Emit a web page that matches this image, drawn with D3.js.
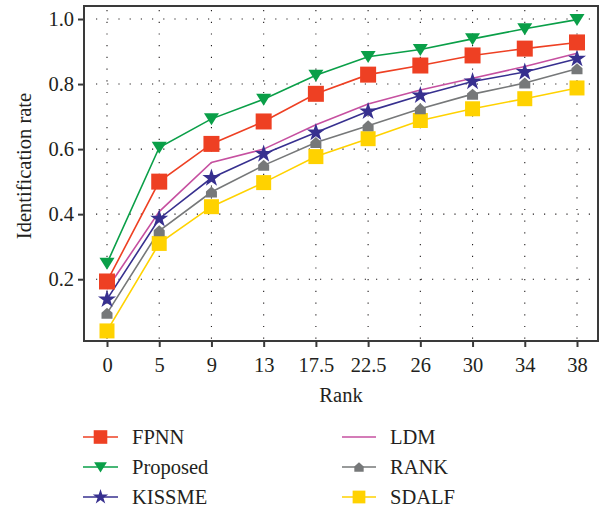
<!DOCTYPE html>
<html>
<head>
<meta charset="utf-8">
<script src="https://cdn.jsdelivr.net/npm/d3@7"></script>
<style>
html,body{margin:0;padding:0;background:#fff;}
svg{display:block;}
text{font-family:"Liberation Serif","DejaVu Serif",serif;fill:#231f20;}
</style>
</head>
<body>
<svg id="chart" width="600" height="506"></svg>
<script>
const categories = ["0","5","9","13","17.5","22.5","26","30","34","38"];
const yTicks = [0.2,0.4,0.6,0.8,1.0];
const seriesNames = ["FPNN","Proposed","KISSME","LDM","RANK","SDALF"];
const fpnn     = [0.193,0.500,0.616,0.685,0.770,0.829,0.857,0.888,0.909,0.928];
const proposed = [0.249,0.605,0.693,0.753,0.827,0.884,0.906,0.939,0.970,0.998];
const kissme   = [0.138,0.386,0.511,0.585,0.651,0.716,0.765,0.808,0.837,0.878];
const ldm      = [0.170,0.408,0.559,0.600,0.675,0.739,0.782,0.818,0.854,0.895];
const rank     = [0.095,0.349,0.468,0.550,0.620,0.672,0.724,0.769,0.803,0.847];
const sdalf    = [0.041,0.310,0.423,0.497,0.577,0.632,0.688,0.724,0.755,0.788];

const series = [
  {name:"SDALF", values:sdalf, color:"#FFD200", marker:"square", size:15},
  {name:"RANK", values:rank, color:"#767879", marker:"house", size:11},
  {name:"KISSME", values:kissme, color:"#37308F", marker:"star", size:15},
  {name:"LDM", values:ldm, color:"#C650A0", marker:"none", size:0},
  {name:"FPNN", values:fpnn, color:"#EE4023", marker:"square", size:16},
  {name:"Proposed", values:proposed, color:"#0A9F48", marker:"tri", size:15}
];

const FS = 20.5;
const svg = d3.select("#chart");
const L=84, R=598, T=6, B=341;
const x = d3.scalePoint().domain(categories).range([107,577]);
const y = d3.scaleLinear().domain([0.01,1.04]).range([B,T]);

// grid
const g = svg.append("g");
g.selectAll(".vg").data(categories).join("line")
  .attr("x1",d=>x(d)).attr("x2",d=>x(d)).attr("y1",T+4).attr("y2",B)
  .attr("stroke","#231f20").attr("stroke-width",1.1).attr("stroke-dasharray","1.2,10.5");
g.selectAll(".hg").data(yTicks).join("line")
  .attr("x1",L+12).attr("x2",R).attr("y1",d=>y(d)).attr("y2",d=>y(d))
  .attr("stroke","#231f20").attr("stroke-width",1.1).attr("stroke-dasharray","1.2,10");

// frame
svg.append("rect").attr("x",L).attr("y",T).attr("width",R-L).attr("height",B-T)
  .attr("fill","none").attr("stroke","#3a3a3a").attr("stroke-width",2);

// axes
const xAxis = svg.append("g").attr("transform",`translate(0,${B})`)
  .call(d3.axisBottom(x).tickSize(6).tickPadding(10));
const yAxis = svg.append("g").attr("transform",`translate(${L},0)`)
  .call(d3.axisLeft(y).tickValues(yTicks).tickFormat(d3.format(".1f")).tickSize(6).tickPadding(4));
[xAxis,yAxis].forEach(a=>{
  a.attr("font-family",null);
  a.select(".domain").remove();
  a.selectAll(".tick line").attr("stroke","#3a3a3a").attr("stroke-width",2);
  a.selectAll(".tick text").style("font-family","'Liberation Serif', serif").attr("font-size",FS).attr("fill","#231f20");
});

// axis titles
svg.append("text").attr("x",341).attr("y",402).attr("text-anchor","middle")
  .attr("font-size",FS).text("Rank");
svg.append("text").attr("transform","translate(31,166) rotate(-90)").attr("text-anchor","middle")
  .attr("font-size",FS).text("Identification rate");

function markerPath(type,s){
  const h=s/2;
  if(type==="square") return `M${-h},${-h}H${h}V${h}H${-h}Z`;
  if(type==="tri") return `M${-h},${-h*0.75}H${h}L0,${h*0.85}Z`;
  if(type==="house") return `M${-h},${h}H${h}V${-h*0.1}L0,${-h}L${-h},${-h*0.1}Z`;
  if(type==="star") return d3.symbol(d3.symbolStar, s*s*0.45)();
  return "";
}

const line = d3.line().x((d,i)=>x(categories[i])).y(d=>y(d));
const lg = svg.append("g");
series.forEach(s=>{
  lg.append("path").attr("d",line(s.values)).attr("fill","none")
    .attr("stroke",s.color).attr("stroke-width",1.6);
});
series.forEach(s=>{
  if(s.marker==="none") return;
  lg.selectAll(null).data(s.values).join("path")
    .attr("transform",(d,i)=>`translate(${x(categories[i])},${y(d)})`)
    .attr("d",markerPath(s.marker,s.size)).attr("fill",s.color);
});

// legend
const byName = {};
series.forEach(s=>byName[s.name]=s);
const legCols=[{lx1:83,lx2:118,tx:132},{lx1:342,lx2:376,tx:390}];
const legRows=[437,467,497];
const legendOrder=[["FPNN","Proposed","KISSME"],["LDM","RANK","SDALF"]];
legendOrder.forEach((col,ci)=>{
  col.forEach((name,ri)=>{
    const s=byName[name], c=legCols[ci], yy=legRows[ri];
    svg.append("line").attr("x1",c.lx1).attr("x2",c.lx2).attr("y1",yy).attr("y2",yy)
      .attr("stroke",s.color).attr("stroke-width",1.6);
    if(s.marker!=="none"){
      svg.append("path").attr("transform",`translate(${(c.lx1+c.lx2)/2},${yy})`)
        .attr("d",markerPath(s.marker,s.size*0.85)).attr("fill",s.color);
    }
    svg.append("text").attr("x",c.tx).attr("y",yy+6.5).attr("font-size",FS).text(name);
  });
});
</script>
</body>
</html>
